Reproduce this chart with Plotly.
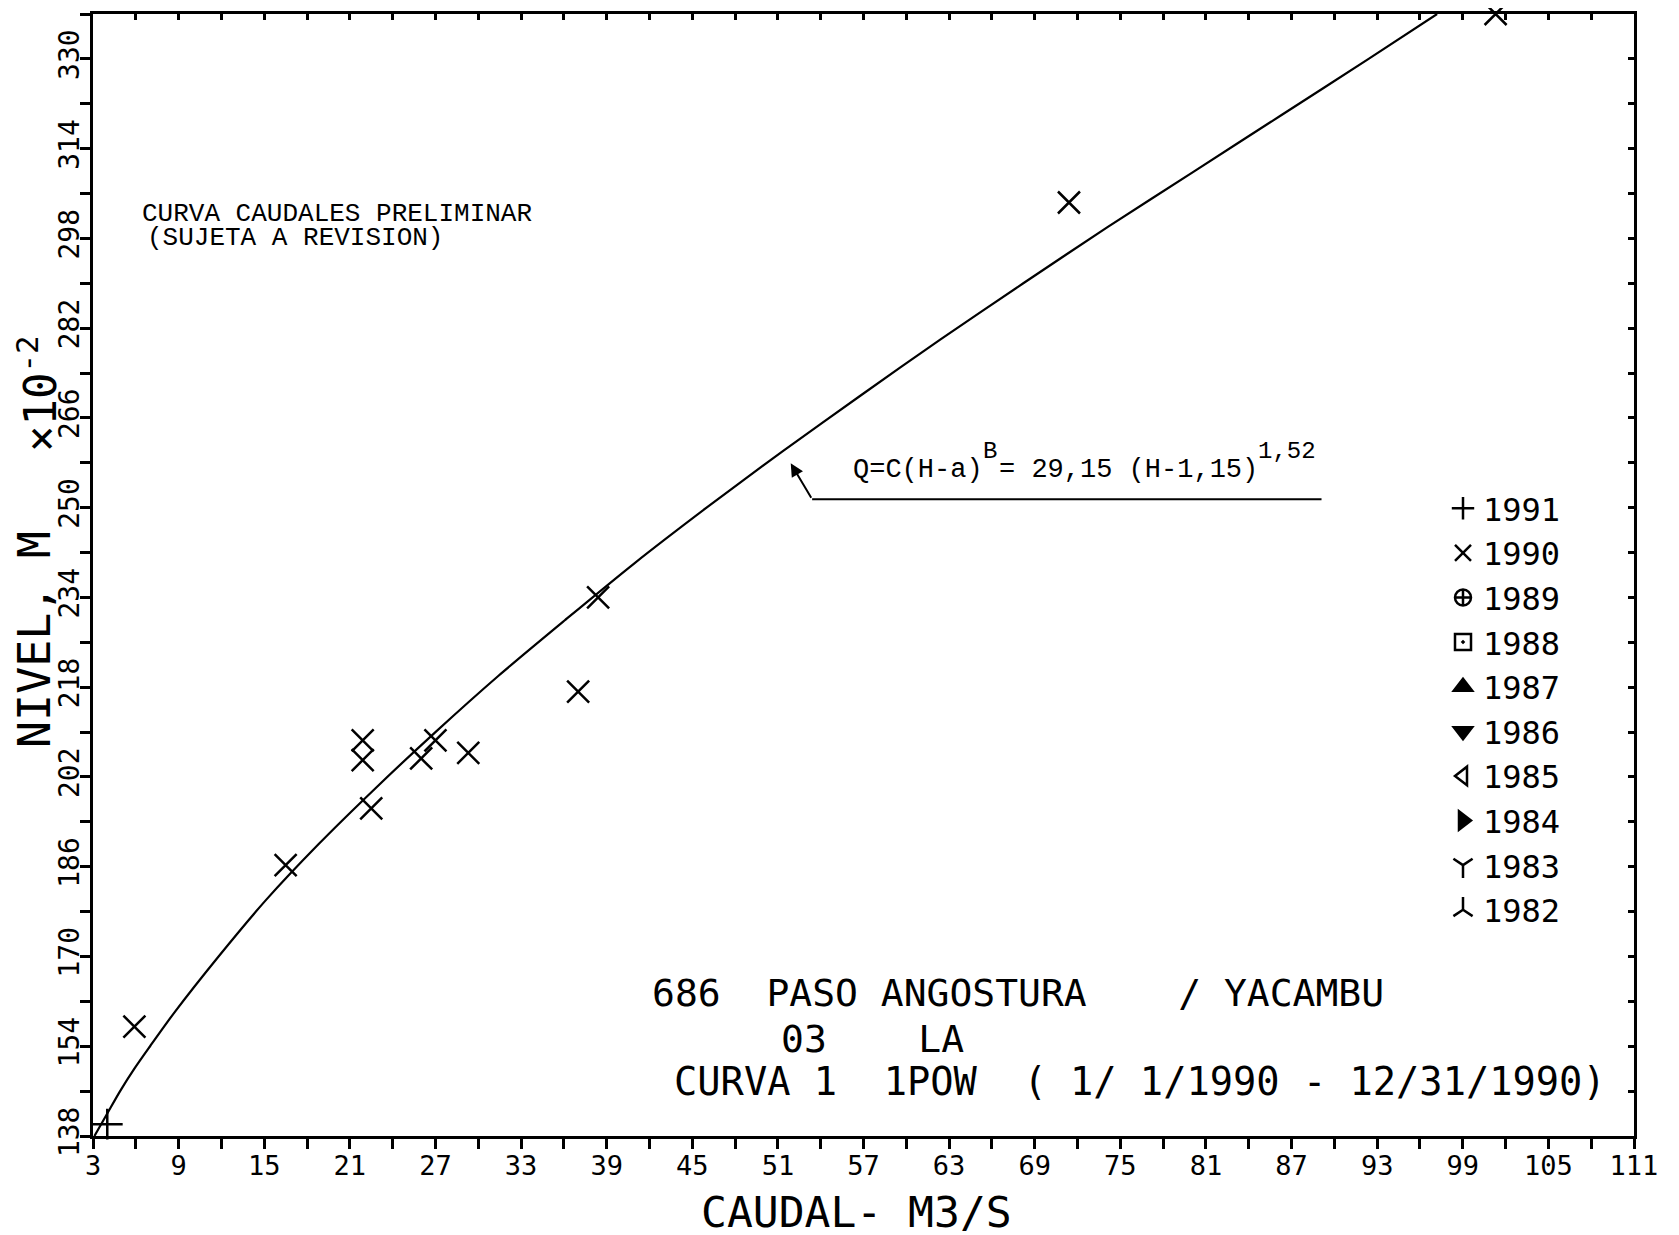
import plotly.graph_objects as go

# ---------------- data ----------------
# rating curve drawn on the chart: discharge (m3/s) vs level (m x 10^-2)
CURVE_Q = [3.1, 4.0, 4.9, 5.9, 7.0, 8.7, 11.8, 15.1, 18.8, 22.8, 27.0, 31.4,
           36.1, 40.9, 46.0, 51.3, 56.8, 62.4, 68.2, 74.1, 80.2, 86.3, 92.4, 97.2]
CURVE_H = [138, 142, 146, 150, 154, 160, 170, 180, 190, 200, 210, 220,
           230, 240, 250, 260, 270, 280, 290, 300, 310, 320, 330, 338]

# gaugings 1990 (x markers)
Q_1990 = [5.9, 16.5, 21.9, 21.9, 22.5, 26.0, 27.0, 29.3, 37.0, 38.4, 71.4, 101.3]
H_1990 = [157.5, 186.3, 208.5, 205.0, 196.4, 205.3, 208.5, 206.3, 217.2, 234.0, 304.4, 338.0]

# gaugings 1991 (+ marker)
Q_1991 = [4.0]
H_1991 = [140.1]

YEARS = ["1991", "1990", "1989", "1988", "1987", "1986", "1985", "1984", "1983", "1982"]
SYMBOLS = ["cross-thin", "x-thin", "circle-cross-open", "square-open-dot", "triangle-up",
           "triangle-down", "triangle-left-open", "triangle-right", "y-down", "y-up"]
SERIES = {"1991": (Q_1991, H_1991), "1990": (Q_1990, H_1990)}

X_RANGE = [3, 111]
Y_RANGE = [138, 338]

# leader from the formula to the curve (data units)
ARROW_TIP = (51.9, 257.9)
ARROW_BEND = (53.4, 251.5)
LEADER_END_Q = 89.1

FORMULA_PARTS = ["Q=C(H-a)", "B", "= 29,15 (H-1,15)", "1,52"]  # base, sup, base, sup
NOTE_1 = "CURVA CAUDALES PRELIMINAR"
NOTE_2 = "(SUJETA A REVISION)"
INFO_1 = "686  PASO ANGOSTURA    / YACAMBU"
INFO_2 = "03    LA"
INFO_3 = "CURVA 1  1POW  ( 1/ 1/1990 - 12/31/1990)"

# ---------------- layout helpers ----------------
W, H = 1679, 1235
L, R, T, B = 85, 1626, 6, 1128
PW, PH = R - L, B - T


def px(X):
    return (X - L) / PW


def py(Y):
    return (B - Y) / PH


def nb(s):
    return s.replace(" ", "\u00a0")


PLOT_FONT = "DejaVu Sans Mono"
TYPE_FONT = "Liberation Mono"
MONO_ADV = 0.6  # advance width of the monospaced typewriter font, in em

fig = go.Figure()

# rating curve
fig.add_trace(go.Scatter(x=CURVE_Q, y=CURVE_H, mode="lines",
                         line=dict(color="black", width=2.2, shape="spline", smoothing=0.8),
                         showlegend=False, hoverinfo="skip"))

# year series (legend)
for yr, sym in zip(YEARS, SYMBOLS):
    xs, ys = SERIES.get(yr, ([None], [None]))
    fig.add_trace(go.Scatter(
        x=xs, y=ys, mode="markers", name=yr, legendgroup=yr,
        marker=dict(symbol=sym, size=22, color="black", line=dict(color="black", width=2.5)),
        cliponaxis=False))

# invisible trace to carry mirrored axes
fig.add_trace(go.Scatter(x=[None], y=[None], xaxis="x2", yaxis="y2", showlegend=False, hoverinfo="skip"))

axis_common = dict(showgrid=False, zeroline=False, showline=True, linecolor="black", linewidth=2.5,
                   tickcolor="black", tickwidth=2.5)

fig.update_layout(
    width=W, height=H,
    margin=dict(l=L, r=W - R, t=T, b=H - B),
    paper_bgcolor="white", plot_bgcolor="white",
    xaxis=dict(range=X_RANGE, tickmode="linear", tick0=3, dtick=6, ticks="outside", ticklen=10,
               ticklabelstandoff=-6,
               minor=dict(tick0=3, dtick=3, ticks="outside", ticklen=10, tickwidth=2.5, tickcolor="black"),
               tickfont=dict(family=PLOT_FONT, size=27, color="black"), **axis_common),
    yaxis=dict(range=Y_RANGE, tickmode="linear", tick0=138, dtick=16, ticks="outside", ticklen=10,
               tickangle=-90, ticklabelstandoff=-10,
               minor=dict(tick0=138, dtick=8, ticks="outside", ticklen=10, tickwidth=2.5, tickcolor="black"),
               tickfont=dict(family=PLOT_FONT, size=28, color="black"), **axis_common),
    xaxis2=dict(range=X_RANGE, overlaying="x", side="top", tickmode="linear", tick0=3, dtick=3,
                ticks="inside", ticklen=6, showticklabels=False, **axis_common),
    yaxis2=dict(range=Y_RANGE, overlaying="y", side="right", tickmode="linear", tick0=138, dtick=8,
                ticks="inside", ticklen=6, showticklabels=False, **axis_common),
    legend=dict(x=px(1435), y=py(473), xanchor="left", yanchor="top", bgcolor="rgba(0,0,0,0)",
                font=dict(family=PLOT_FONT, size=32, color="black"), tracegroupgap=0,
                itemsizing="trace"),
    showlegend=True,
)

ann = []
# axis titles
ann.append(dict(text="NIVEL, M", x=px(27), y=py(632), xref="paper", yref="paper", textangle=-90,
                xanchor="center", yanchor="middle",
                showarrow=False, font=dict(family=PLOT_FONT, size=45, color="black")))
ann.append(dict(text="×10<sup>-2</sup>", x=px(29), y=py(385), xref="paper", yref="paper", textangle=-90,
                xanchor="center", yanchor="middle",
                showarrow=False, font=dict(family=PLOT_FONT, size=44, color="black")))
ann.append(dict(text=nb("CAUDAL- M3/S"), x=px(691), y=py(1204), xref="paper", yref="paper",
                xanchor="left", yanchor="middle", showarrow=False,
                font=dict(family=PLOT_FONT, size=43, color="black")))
# typewritten notes
ann.append(dict(text=nb(NOTE_1), x=px(132), y=py(206), xref="paper", yref="paper", xanchor="left",
                yanchor="middle", showarrow=False, font=dict(family=TYPE_FONT, size=26, color="black")))
ann.append(dict(text=nb(NOTE_2), x=px(137), y=py(230), xref="paper", yref="paper", xanchor="left",
                yanchor="middle", showarrow=False, font=dict(family=TYPE_FONT, size=26, color="black")))

# formula with full-size raised exponents (typewriter style)
BASE_SIZE, SUP_SIZE = 27, 24
BASE_Y, SUP_RISE = 462, 19
cursor = 843
for i, part in enumerate(FORMULA_PARTS):
    is_sup = i % 2 == 1
    size = SUP_SIZE if is_sup else BASE_SIZE
    ann.append(dict(text=nb(part), x=px(cursor), y=py(BASE_Y - (SUP_RISE if is_sup else 0)),
                    xref="paper", yref="paper", xanchor="left", yanchor="middle", showarrow=False,
                    font=dict(family=TYPE_FONT, size=size, color="black")))
    cursor += len(part) * size * MONO_ADV + (2 if is_sup else 0)

# leader arrow pointing at the curve
ann.append(dict(text="", x=ARROW_TIP[0], y=ARROW_TIP[1], xref="x", yref="y",
                ax=ARROW_BEND[0], ay=ARROW_BEND[1], axref="x", ayref="y",
                showarrow=True, arrowhead=2, arrowsize=1.3, arrowwidth=2, arrowcolor="black"))
# station block
ann.append(dict(text=nb(INFO_1), x=px(642), y=py(985), xref="paper", yref="paper", xanchor="left",
                yanchor="middle", showarrow=False, font=dict(family=PLOT_FONT, size=38, color="black")))
ann.append(dict(text=nb(INFO_2), x=px(771), y=py(1031), xref="paper", yref="paper", xanchor="left",
                yanchor="middle", showarrow=False, font=dict(family=PLOT_FONT, size=38, color="black")))
ann.append(dict(text=nb(INFO_3), x=px(664), y=py(1073), xref="paper", yref="paper", xanchor="left",
                yanchor="middle", showarrow=False, font=dict(family=PLOT_FONT, size=38.7, color="black")))
fig.update_layout(annotations=ann)

fig.add_shape(type="line", x0=ARROW_BEND[0], y0=ARROW_BEND[1], x1=LEADER_END_Q, y1=ARROW_BEND[1],
              xref="x", yref="y", line=dict(color="black", width=2))

fig.write_html("out.html")
